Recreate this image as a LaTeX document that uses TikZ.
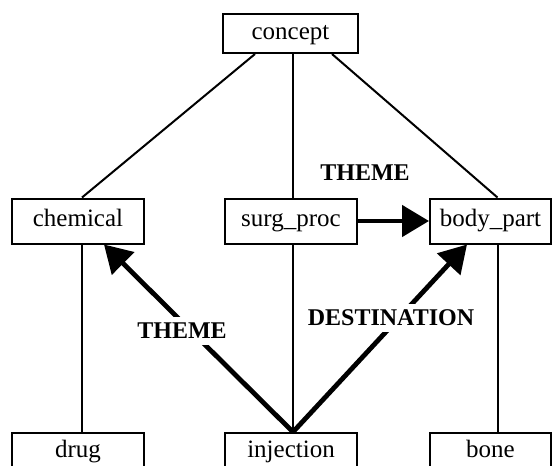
\documentclass[tikz,border=0pt]{standalone}
\usepackage{fontspec}
\setmainfont{Liberation Serif}
\usetikzlibrary{calc,arrows.meta}
\tikzset{
  box/.style={draw, line width=2pt, rectangle, inner sep=0pt, text height=17pt, text depth=6pt, font=\fontsize{25}{30}\selectfont},
  link/.style={line width=2pt},
  rel/.style={line width=4.8pt, -{Triangle[length=27pt,width=31pt]}},
  lab/.style={fill=white, inner sep=6pt, font=\fontsize{24}{28}\bfseries}
}
\begin{document}
\begin{tikzpicture}[x=1pt,y=-1pt]
\useasboundingbox (0,0) rectangle (552,466);
\clip (0,0) rectangle (552,466);
\node[box, minimum width=135pt, minimum height=39pt] (concept) at (290.5,33.5) {concept};
\node[box, minimum width=132pt, minimum height=45pt] (chemical) at (78,221) {chemical};
\node[box, minimum width=132pt, minimum height=45pt] (surgproc) at (291,221) {surg\_proc};
\node[box, minimum width=121pt, minimum height=45pt] (bodypart) at (490.5,221) {body\_part};
\node[box, minimum width=132pt, minimum height=38pt] (drug) at (78,452) {drug};
\node[box, minimum width=132pt, minimum height=38pt] (injection) at (291,452) {injection};
\node[box, minimum width=121pt, minimum height=38pt] (bone) at (490.5,452) {bone};

\draw[link] ($(concept.south)+(-35.5,0)$) -- ($(chemical.north)+(4,0)$);
\draw[link] ($(concept.south)+(2.5,0)$) -- ($(surgproc.north)+(2,0)$);
\draw[link] ($(concept.south)+(41.5,0)$) -- ($(bodypart.north)+(7,0)$);
\draw[link] ($(chemical.south)+(4,0)$) -- ($(drug.north)+(4,0)$);
\draw[link] ($(surgproc.south)+(2,0)$) -- ($(injection.north)+(2,0)$);
\draw[link] ($(bodypart.south)+(7,0)$) -- ($(bone.north)+(7,0)$);

\draw[rel] ($(injection.north)+(2,0)$) -- ($(chemical.south)+(26,0)$);
\draw[rel] ($(injection.north)+(2,0)$) -- ($(bodypart.south)+(-23.5,0)$);
\draw[rel] (surgproc.east) -- (bodypart.west);

\node[lab] (theme1) at (182,331) {THEME};
\node[lab] (dest) at (391,318) {DESTINATION};
\node[lab] (theme2) at (365,173) {THEME};
\end{tikzpicture}
\end{document}
